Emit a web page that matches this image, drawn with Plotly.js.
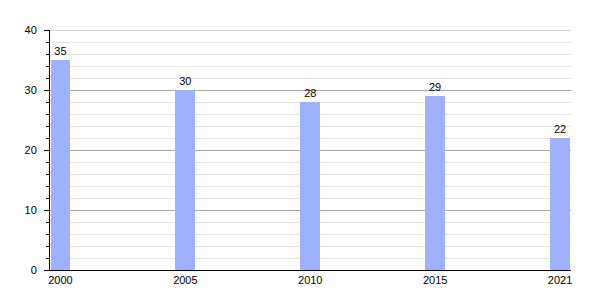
<!DOCTYPE html>
<html><head><meta charset="utf-8">
<script src="https://cdn.plot.ly/plotly-3.0.1.min.js"></script>
<style>html,body{margin:0;padding:0;background:#fff}#c{width:600px;height:300px}</style>
</head><body><div id="c"></div>
<script>
const years = ['2000','2005','2010','2015','2021'];
const values = [35, 30, 28, 29, 22];
const yTicks = [0, 10, 20, 30, 40];
const yMax = 40;

Plotly.newPlot('c', [{
  type: 'bar',
  x: years,
  y: values,
  width: 0.16,
  marker: {color: '#9db1ff'},
  text: values.map(String),
  textposition: 'outside',
  cliponaxis: false,
  textfont: {family: 'Liberation Sans, Arial, sans-serif', size: 11, color: '#000'},
  hoverinfo: 'none'
}], {
  width: 600, height: 300,
  margin: {l: 50, r: 29, t: 30, b: 30},
  paper_bgcolor: '#fff', plot_bgcolor: '#fff',
  showlegend: false,
  bargap: 0,
  font: {family: 'Liberation Sans, Arial, sans-serif', size: 11, color: '#000'},
  shapes: [{type: 'line', xref: 'paper', yref: 'y', x0: 0, x1: 1, y0: yMax, y1: yMax,
            line: {color: '#aaaaaa', width: 1}, layer: 'below'}],
  xaxis: {
    type: 'category',
    range: [-0.084, 4.088],
    showgrid: false,
    showline: true, linecolor: '#000', linewidth: 1,
    ticks: '', tickfont: {size: 11},
    zeroline: false, fixedrange: true
  },
  yaxis: {
    range: [0, yMax],
    tickvals: yTicks,
    ticktext: yTicks.map(String),
    showline: true, linecolor: '#000', linewidth: 1,
    ticks: 'outside', ticklen: 5, tickcolor: '#000',
    ticklabelstandoff: 5,
    showgrid: true, gridcolor: '#aaaaaa', gridwidth: 1,
    zeroline: false,
    tickfont: {size: 11},
    minor: {dtick: 2, ticks: 'outside', ticklen: 3, tickcolor: '#000', showgrid: true, gridcolor: '#e4e4e4', gridwidth: 1},
    fixedrange: true
  }
}, {staticPlot: true});
</script></body></html>
